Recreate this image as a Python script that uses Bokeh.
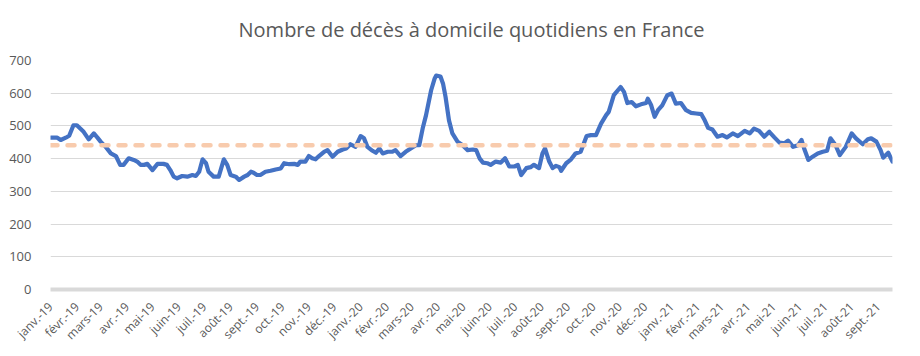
import pandas as pd
from math import pi
from bokeh.plotting import figure
from bokeh.models import FixedTicker, Span, Range1d
from bokeh.embed import file_html
from bokeh.resources import INLINE

# ---- data ----
dates = [
    "2019-01-01", "2019-01-09", "2019-01-13", "2019-01-19", "2019-01-23", "2019-01-28",
    "2019-02-01", "2019-02-05", "2019-02-09", "2019-02-15", "2019-02-21", "2019-02-25",
    "2019-03-01", "2019-03-07", "2019-03-13", "2019-03-19", "2019-03-24", "2019-03-28",
    "2019-04-03", "2019-04-09", "2019-04-13", "2019-04-17", "2019-04-21", "2019-04-25",
    "2019-05-01", "2019-05-07", "2019-05-14", "2019-05-18", "2019-05-22", "2019-05-26",
    "2019-05-30", "2019-06-05", "2019-06-11", "2019-06-17", "2019-06-21", "2019-06-25",
    "2019-06-29", "2019-07-03", "2019-07-06", "2019-07-12", "2019-07-18", "2019-07-24",
    "2019-07-28", "2019-08-01", "2019-08-07", "2019-08-11", "2019-08-17", "2019-08-21",
    "2019-08-25", "2019-08-28", "2019-09-01", "2019-09-05", "2019-09-11", "2019-09-17",
    "2019-09-23", "2019-09-29", "2019-10-03", "2019-10-09", "2019-10-15", "2019-10-19",
    "2019-10-22", "2019-10-28", "2019-11-01", "2019-11-05", "2019-11-09", "2019-11-13",
    "2019-11-19", "2019-11-23", "2019-11-29", "2019-12-05", "2019-12-11", "2019-12-15",
    "2019-12-20", "2019-12-26", "2020-01-01", "2020-01-05", "2020-01-09", "2020-01-15",
    "2020-01-19", "2020-01-23", "2020-01-27", "2020-02-02", "2020-02-07", "2020-02-11",
    "2020-02-17", "2020-02-23", "2020-02-29", "2020-03-06", "2020-03-10", "2020-03-14",
    "2020-03-18", "2020-03-24", "2020-03-28", "2020-03-30", "2020-04-04", "2020-04-07",
    "2020-04-10", "2020-04-14", "2020-04-18", "2020-04-24", "2020-04-30", "2020-05-06",
    "2020-05-12", "2020-05-16", "2020-05-20", "2020-05-24", "2020-05-29", "2020-06-02",
    "2020-06-08", "2020-06-14", "2020-06-19", "2020-06-24", "2020-06-30", "2020-07-04",
    "2020-07-08", "2020-07-14", "2020-07-19", "2020-07-23", "2020-07-29", "2020-08-02",
    "2020-08-05", "2020-08-10", "2020-08-14", "2020-08-18", "2020-08-22", "2020-08-24",
    "2020-08-30", "2020-09-04", "2020-09-10", "2020-09-16", "2020-09-23", "2020-09-28",
    "2020-10-04", "2020-10-10", "2020-10-16", "2020-10-19", "2020-10-25", "2020-11-02",
    "2020-11-06", "2020-11-10", "2020-11-15", "2020-11-20", "2020-11-26", "2020-12-02",
    "2020-12-04", "2020-12-08", "2020-12-12", "2020-12-16", "2020-12-21", "2020-12-27",
    "2021-01-01", "2021-01-06", "2021-01-12", "2021-01-18", "2021-01-24", "2021-01-30",
    "2021-02-05", "2021-02-09", "2021-02-13", "2021-02-18", "2021-02-24", "2021-03-02",
    "2021-03-07", "2021-03-14", "2021-03-20", "2021-03-28", "2021-04-03", "2021-04-08",
    "2021-04-14", "2021-04-20", "2021-04-26", "2021-05-02", "2021-05-08", "2021-05-14",
    "2021-05-18", "2021-05-24", "2021-05-30", "2021-06-03", "2021-06-06", "2021-06-11",
    "2021-06-16", "2021-06-22", "2021-06-28", "2021-07-03", "2021-07-07", "2021-07-13",
    "2021-07-18", "2021-07-25", "2021-08-01", "2021-08-06", "2021-08-14", "2021-08-20",
    "2021-08-24", "2021-08-30", "2021-09-04", "2021-09-07", "2021-09-13", "2021-09-18",
]
deaths = [
    464, 464, 457, 464, 470, 502,
    502, 492, 482, 459, 477, 465,
    452, 436, 416, 408, 381, 381,
    401, 396, 391, 381, 381, 384,
    365, 384, 384, 381, 365, 345,
    340, 347, 345, 350, 347, 360,
    398, 386, 360, 345, 345, 398,
    381, 350, 345, 335, 345, 350,
    360, 357, 350, 350, 360, 363,
    367, 370, 386, 383, 384, 381,
    391, 391, 408, 401, 398, 408,
    421, 426, 406, 421, 428, 431,
    444, 436, 469, 462, 436, 424,
    418, 431, 416, 421, 421, 426,
    408, 421, 431, 441, 441, 492,
    533, 609, 644, 654, 651, 629,
    588, 517, 477, 452, 441, 426,
    428, 426, 401, 388, 386, 381,
    391, 388, 401, 376, 376, 381,
    350, 371, 374, 381, 371, 416,
    431, 391, 371, 378, 374, 363,
    386, 396, 416, 421, 469, 472,
    472, 507, 533, 543, 594, 619,
    604, 570, 573, 560, 566, 570,
    583, 563, 528, 548, 563, 594,
    599, 568, 570, 548, 540, 538,
    536, 517, 494, 489, 467, 472,
    465, 477, 469, 485, 477, 492,
    485, 467, 482, 465, 449, 447,
    455, 436, 441, 457, 431, 396,
    406, 416, 421, 424, 462, 441,
    411, 436, 477, 462, 444, 459,
    462, 452, 426, 403, 418, 391,
]
average_level = 441
month_labels = [
    "janv.-19", "févr.-19", "mars-19", "avr.-19", "mai-19", "juin-19", "juil.-19",
    "août-19", "sept.-19", "oct.-19", "nov.-19", "déc.-19",
    "janv.-20", "févr.-20", "mars-20", "avr.-20", "mai-20", "juin-20", "juil.-20",
    "août-20", "sept.-20", "oct.-20", "nov.-20", "déc.-20",
    "janv.-21", "févr.-21", "mars-21", "avr.-21", "mai-21", "juin-21", "juil.-21",
    "août-21", "sept.-21",
]
y_ticks = [0, 100, 200, 300, 400, 500, 600, 700]
title_text = "Nombre de décès à domicile quotidiens en France"

# ---- build ----
x = pd.to_datetime(dates)
month_starts = pd.date_range(start=dates[0], periods=len(month_labels), freq="MS")
epoch = pd.Timestamp("1970-01-01")
tick_ms = [float((m - epoch) / pd.Timedelta(milliseconds=1)) for m in month_starts]

TEXT = "#595959"
FONT = "Open Sans"

p = figure(
    width=912, height=352,
    x_axis_type="datetime",
    x_range=Range1d(x[0], x[-1]),
    y_range=Range1d(0, 700),
    output_backend="svg", toolbar_location=None,
    min_border_left=50, min_border_right=20, min_border_bottom=62, min_border_top=60,
)
p.outline_line_color = None
p.background_fill_color = "white"
p.border_fill_color = "white"

p.title.text = title_text
p.title.align = "center"
p.title.vertical_align = "top"
p.title.text_font = FONT
p.title.text_font_size = "20px"
p.title.text_font_style = "normal"
p.title.text_color = TEXT
p.title.standoff = 31

p.line(x, deaths, line_color="#4472C4", line_width=4.2, line_join="round", line_cap="round")
p.add_layout(Span(location=average_level, dimension="width", line_color="#F8CBAD",
                  line_width=4.5, line_dash="7 10", line_cap="round"))

p.xaxis.ticker = FixedTicker(ticks=tick_ms)
p.xaxis.major_label_overrides = {t: lab for t, lab in zip(tick_ms, month_labels)}
p.xaxis.major_label_orientation = pi / 4
p.xaxis.axis_line_color = "#d9d9d9"
p.xaxis.axis_line_width = 4
p.xaxis.major_tick_line_color = None
p.xaxis.minor_tick_line_color = None
p.xaxis.major_label_text_font = FONT
p.xaxis.major_label_text_font_size = "12px"
p.xaxis.major_label_text_color = TEXT
p.xaxis.major_label_standoff = 9

p.yaxis.ticker = FixedTicker(ticks=y_ticks)
p.yaxis.axis_line_color = None
p.yaxis.major_tick_line_color = None
p.yaxis.minor_tick_line_color = None
p.yaxis.major_label_text_font = FONT
p.yaxis.major_label_text_font_size = "13px"
p.yaxis.major_label_text_color = TEXT
p.yaxis.major_label_standoff = 13

p.xgrid.visible = False
p.ygrid.ticker = FixedTicker(ticks=y_ticks)
p.ygrid.grid_line_color = "#d9d9d9"
p.ygrid.grid_line_width = 1

open("out.html", "w").write(file_html(p, INLINE))
